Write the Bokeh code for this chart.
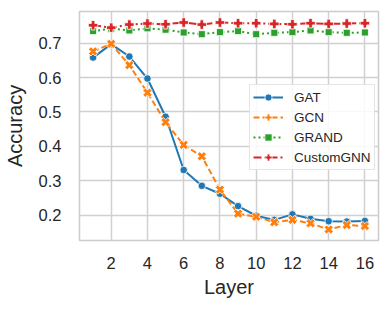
import math
from bokeh.plotting import figure
from bokeh.models import Range1d, FixedTicker, Legend, LegendItem
from bokeh.embed import file_html
from bokeh.resources import INLINE

layers = list(range(1, 17))
gat = [0.658, 0.697, 0.661, 0.597, 0.486, 0.331, 0.285, 0.262, 0.226, 0.198,
       0.186, 0.202, 0.189, 0.182, 0.181, 0.183]
gcn = [0.676, 0.698, 0.636, 0.556, 0.470, 0.404, 0.371, 0.274, 0.204, 0.195,
       0.179, 0.186, 0.176, 0.158, 0.171, 0.168]
grand = [0.735, 0.742, 0.737, 0.743, 0.739, 0.731, 0.726, 0.732, 0.735, 0.726,
         0.730, 0.732, 0.737, 0.732, 0.730, 0.731]
custom = [0.752, 0.745, 0.754, 0.757, 0.755, 0.760, 0.754, 0.760, 0.758, 0.758,
          0.756, 0.755, 0.758, 0.756, 0.757, 0.758]
x_ticks = [2, 4, 6, 8, 10, 12, 14, 16]
y_ticks = [0.2, 0.3, 0.4, 0.5, 0.6, 0.7]

FONT = "Liberation Sans"
TXT = "#262626"

p = figure(width=380, height=300, output_backend="svg", toolbar_location=None,
           x_range=Range1d(0.25, 16.75), y_range=Range1d(0.126, 0.792),
           min_border_left=76, min_border_right=2, min_border_top=11, min_border_bottom=53)

p.background_fill_color = "white"
p.outline_line_color = "#cccccc"
p.outline_line_width = 1.5

for ax in (p.xaxis[0], p.yaxis[0]):
    ax.axis_line_color = None
    ax.major_tick_line_color = None
    ax.minor_tick_line_color = None
    ax.major_label_text_font = FONT
    ax.major_label_text_font_size = "16.5px"
    ax.major_label_text_color = TXT
    ax.axis_label_text_font = FONT
    ax.axis_label_text_font_size = "20px"
    ax.axis_label_text_font_style = "normal"
    ax.axis_label_text_color = TXT

p.xaxis.ticker = FixedTicker(ticks=x_ticks)
p.yaxis.ticker = FixedTicker(ticks=y_ticks)
p.xaxis.axis_label = "Layer"
p.yaxis.axis_label = "Accuracy"
p.xaxis.major_label_standoff = 10
p.yaxis.major_label_standoff = 12
p.xaxis.axis_label_standoff = 4
p.yaxis.axis_label_standoff = 10

p.xgrid.ticker = FixedTicker(ticks=x_ticks)
p.ygrid.ticker = FixedTicker(ticks=y_ticks)
for g in (p.xgrid[0], p.ygrid[0]):
    g.grid_line_color = "#d0d0d0"
    g.grid_line_width = 1.5

series = [
    ("GAT", gat, "#1f77b4", "solid", "circle", 7.5, 0),
    ("GCN", gcn, "#ff7f0e", "6 3", "plus", 9.5, math.pi / 4),
    ("GRAND", grand, "#2ca02c", "2 3", "square", 7, 0),
    ("CustomGNN", custom, "#d62728", "8 3 2 3", "plus", 9.5, 0),
]

items = []
for name, ys, col, dash, mk, sz, ang in series:
    l = p.line(layers, ys, line_color=col, line_width=2, line_dash=dash)
    s = p.scatter(layers, ys, marker=mk, size=sz, angle=ang, fill_color=col,
                  line_color="white", line_width=0.8)
    items.append(LegendItem(label=name, renderers=[l, s]))

legend = Legend(items=items, location=(170, 70))
legend.label_text_font = FONT
legend.label_text_font_size = "13.5px"
legend.label_text_color = TXT
legend.glyph_width = 30
legend.glyph_height = 18
legend.label_height = 18
legend.spacing = 2
legend.padding = 3
legend.margin = 0
legend.label_standoff = 11
legend.border_line_color = "#cccccc"
legend.border_line_width = 1
legend.background_fill_alpha = 0.85
p.add_layout(legend)

open("out.html", "w").write(file_html(p, INLINE))
